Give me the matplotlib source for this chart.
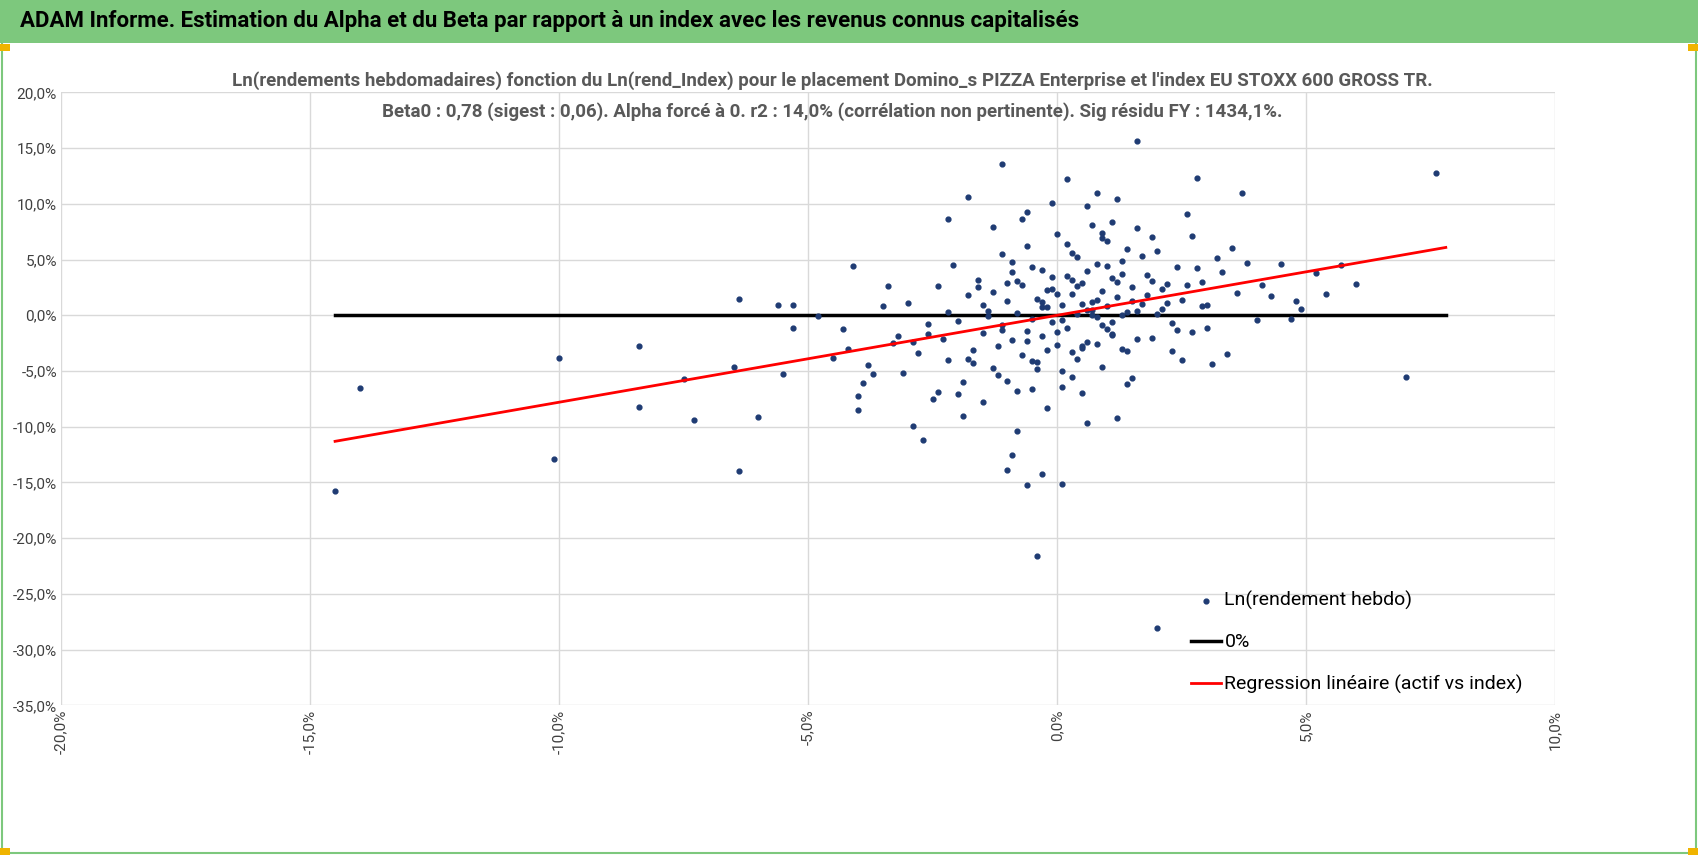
import numpy as np
import matplotlib.pyplot as plt
from matplotlib.ticker import FuncFormatter
import matplotlib.patches as patches

plt.rcParams['font.family'] = ['Liberation Sans Narrow', 'Roboto', 'DejaVu Sans']

title_bar = "ADAM Informe. Estimation du Alpha et du Beta par rapport à un index avec les revenus connus capitalisés"
title_l1 = "Ln(rendements hebdomadaires) fonction du Ln(rend_Index) pour le placement Domino_s PIZZA Enterprise et l'index EU STOXX 600 GROSS TR."
title_l2 = "Beta0 : 0,78 (sigest : 0,06). Alpha forcé à 0. r2 : 14,0% (corrélation non pertinente). Sig résidu FY : 1434,1%."

beta = 0.78
x_line = [-14.5, 7.8]

# weekly log returns in %, (index, asset)
outliers = [(-14.5, -15.8), (-14.0, -6.5), (-10.0, -3.8), (-10.1, -12.9), (-8.4, -2.8), (-8.4, -8.2),
            (-7.5, -5.7), (-7.3, -9.4), (-6.5, -4.6), (-6.4, 1.5), (-6.4, -14.0), (-6.0, -9.1),
            (-5.6, 0.9), (-5.5, -5.3), (-5.3, 0.9), (-5.3, -1.1), (-4.8, -0.1), (-4.1, 4.4),
            (-4.0, -7.2), (-4.0, -8.5), (7.6, 12.8), (7.0, -5.5), (6.0, 2.8), (5.7, 4.5), (4.9, 0.6),
            (4.7, -0.3), (1.6, 15.6), (2.0, -28.1), (-0.4, -21.6), (-1.1, 13.6), (-0.3, -14.2),
            (0.1, -15.1), (-0.6, -15.2), (-1.8, 10.6), (-2.2, 8.6), (2.8, 12.3), (3.7, 11.0),
            (-0.9, -12.5), (-1.0, -13.9), (-2.7, -11.2), (-2.9, -9.9), (-1.9, -9.0)]

cloud = [(-4.5, -3.8), (-4.3, -1.2), (-3.8, -4.5), (-3.5, 0.8), (-3.3, -2.5), (-3.1, -5.2), (-3.0, 1.1),
         (-2.8, -3.4), (-2.6, -0.8), (-2.5, -7.5), (-2.4, 2.6), (-2.3, -2.1), (-2.2, -4.0), (-2.1, 4.5),
         (-2.0, -0.5), (-1.9, -6.0), (-1.8, 1.8), (-1.7, -3.1), (-1.6, 3.2), (-1.5, -1.6), (-1.5, -7.8),
         (-1.4, 0.4), (-1.3, -4.7), (-1.3, 2.1), (-1.2, -2.8), (-1.1, 5.5), (-1.1, -0.9), (-1.0, -5.9),
         (-1.0, 1.3), (-0.9, -2.2), (-0.9, 3.9), (-0.8, -10.4), (-0.8, 0.2), (-0.7, -3.6), (-0.7, 2.7),
         (-0.6, -1.4), (-0.6, 6.2), (-0.5, -6.6), (-0.5, -0.3), (-0.4, 1.5), (-0.4, -4.2), (-0.3, 4.1),
         (-0.3, -1.9), (-0.2, 0.7), (-0.2, -8.3), (-0.1, 2.4), (-0.1, -0.6), (0.0, 7.3), (0.0, -2.7),
         (0.1, 0.9), (0.1, -5.0), (0.2, 3.5), (0.2, -1.1), (0.3, 1.9), (0.3, -3.3), (0.4, 5.2),
         (0.4, 0.1), (0.5, -7.0), (0.5, 2.9), (0.6, 0.5), (0.6, -2.4), (0.7, 8.1), (0.7, 1.2),
         (0.8, -0.2), (0.8, 4.6), (0.9, -4.6), (0.9, 2.2), (1.0, 0.8), (1.0, 6.7), (1.1, -1.7),
         (1.1, 3.3), (1.2, -9.2), (1.2, 1.6), (1.3, -3.0), (1.3, 4.9), (1.4, 0.3), (1.5, 2.5),
         (1.5, -5.6), (1.6, 7.8), (1.7, 1.0), (1.8, 3.6), (1.9, -2.0), (2.0, 5.8), (2.1, 0.6),
         (2.2, 2.8), (2.3, -0.7), (2.4, 4.3), (2.5, 1.4), (2.6, 9.1), (2.7, -1.5), (2.9, 3.0),
         (3.0, 0.9), (3.2, 5.1), (3.4, -3.5), (3.6, 2.0), (3.8, 4.7), (4.0, -0.4), (4.3, 1.7),
         (4.5, 4.6), (5.2, 3.8), (5.4, 1.9), (-1.2, -5.4), (-0.8, 3.1), (-0.5, -4.1), (-0.2, 2.3),
         (0.1, -6.4), (0.3, 5.6), (0.5, -2.9), (0.7, 0.0), (0.9, 6.9), (1.1, -1.8), (1.3, 3.7),
         (1.6, 0.4), (1.9, 7.0), (2.2, 1.1), (-1.6, 2.5), (-2.0, -7.1), (-0.3, 0.7), (0.4, -3.9),
         (0.6, 9.8), (0.8, -2.6), (1.0, 4.4), (1.2, 10.4), (1.4, -3.2), (-0.6, -2.3), (-0.9, 4.8),
         (-1.4, -0.1), (0.2, 12.2), (0.0, 1.9), (2.4, -1.3), (2.8, 4.2), (3.1, -4.4), (-2.4, -6.9),
         (-3.4, 2.6), (-3.7, -5.3), (1.7, 5.3), (0.6, -9.7), (0.2, 6.4), (-0.1, 3.4), (-0.4, -4.8),
         (0.9, 7.4), (1.5, 1.3), (2.0, 0.1), (-1.0, 2.9), (-0.7, 8.6), (0.3, 3.2), (1.1, -0.6),
         (0.5, -2.8), (0.7, 0.5), (1.8, 1.8), (2.6, 2.7), (3.3, 3.9), (-2.6, -1.7), (-1.5, 0.9),
         (-0.2, -3.1), (0.4, 2.6), (0.8, 1.4), (1.0, -1.2), (1.2, 3.0), (1.4, 5.9), (0.1, -0.4),
         (-0.3, 1.2), (0.6, 4.0), (0.9, -0.9), (1.6, -2.1), (2.1, 2.4), (2.9, 0.8), (3.5, 6.0),
         (-1.8, -3.9), (-1.1, -1.3), (-0.5, 4.3), (0.0, -1.5), (0.5, 1.0), (1.3, 0.0), (1.9, 3.1),
         (2.3, -3.2), (-2.2, 0.3), (-3.2, -1.9), (-4.2, -3.0), (-3.9, -6.1), (-2.9, -2.4), (-1.7, -4.3),
         (-0.8, -6.8), (0.3, -5.5), (1.4, -6.2), (2.5, -4.0), (3.0, -1.1), (4.1, 2.7), (4.8, 1.3),
         (-0.6, 9.3), (0.8, 11.0), (1.1, 8.4), (2.7, 7.1), (-1.3, 7.9), (-0.1, 10.1)]

idx_ret = [p[0] for p in outliers + cloud]
asset_ret = [p[1] for p in outliers + cloud]

fig = plt.figure(figsize=(16.98, 8.55), dpi=100)
fig.patch.set_facecolor('white')

# green header band and thin frame
fig.patches.append(patches.Rectangle((0, 0.95), 1, 0.05, transform=fig.transFigure,
                                     facecolor='#7dc87d', edgecolor='none'))
fig.patches.append(patches.Rectangle((0.001, 0.002), 0.998, 0.996, transform=fig.transFigure,
                                     facecolor='none', edgecolor='#7dc87d', lw=1.5))
fig.text(0.012, 0.975, title_bar, fontsize=16, fontweight='bold', va='center', color='black')
for xc in [0.0, 0.994]:
    fig.patches.append(patches.Rectangle((xc, 0.94), 0.006, 0.008, transform=fig.transFigure,
                                         facecolor='#f0b400', edgecolor='none'))
    fig.patches.append(patches.Rectangle((xc, 0.0), 0.006, 0.008, transform=fig.transFigure,
                                         facecolor='#f0b400', edgecolor='none'))

fig.text(0.49, 0.906, title_l1, fontsize=13.5, fontweight='bold', color='#595959', ha='center', va='center')
fig.text(0.49, 0.870, title_l2, fontsize=13.5, fontweight='bold', color='#595959', ha='center', va='center')

ax = fig.add_axes([0.036, 0.175, 0.88, 0.717])
ax.scatter(idx_ret, asset_ret, s=12, color='#1f3b73', zorder=3, label='Ln(rendement hebdo)')
ax.plot(x_line, [0, 0], color='black', lw=2.5, zorder=2, label='0%')
ax.plot(x_line, [beta * v for v in x_line], color='red', lw=2, zorder=4,
        label='Regression linéaire (actif vs index)')

ax.set_xlim(-20, 10)
ax.set_ylim(-35, 20)
ax.set_xticks(np.arange(-20, 10.1, 5))
ax.set_yticks(np.arange(-35, 20.1, 5))
fmt = FuncFormatter(lambda v, p: f"{v:.1f}%".replace('.', ','))
ax.xaxis.set_major_formatter(fmt)
ax.yaxis.set_major_formatter(fmt)
ax.grid(True, color='#d9d9d9', lw=1)
ax.set_axisbelow(True)
for s in ax.spines.values():
    s.set_visible(False)
ax.tick_params(length=0, labelsize=11, colors='#404040', pad=3)
plt.setp(ax.get_xticklabels(), rotation=90)

ax.legend(loc='lower right', bbox_to_anchor=(0.99, -0.01), frameon=False, fontsize=14,
          labelspacing=1.2, handlelength=1.5, handletextpad=0.2, markerscale=1.0)

fig.savefig('out.png', dpi=100)
